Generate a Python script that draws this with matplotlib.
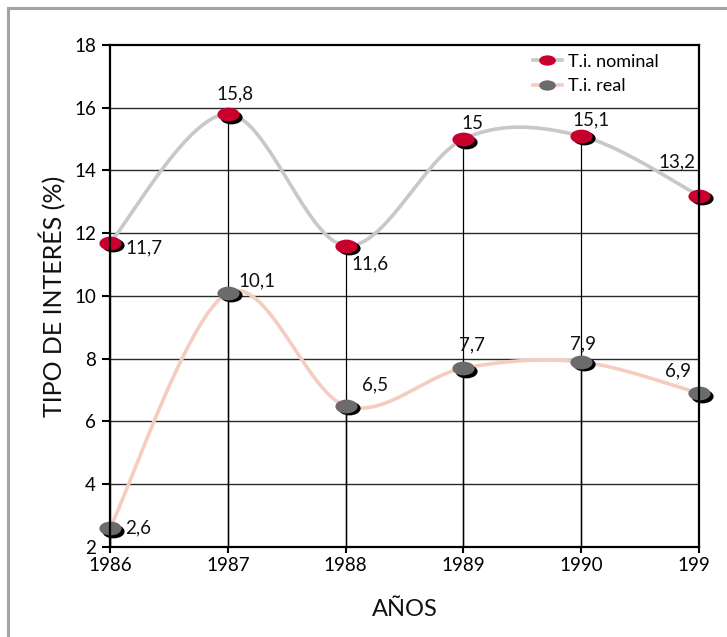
import numpy as np
import matplotlib
matplotlib.use('Agg')
import matplotlib.pyplot as plt
from matplotlib.path import Path
from matplotlib.transforms import Affine2D, ScaledTranslation, Bbox, TransformedBbox
from matplotlib.lines import Line2D
from matplotlib.patches import Rectangle

plt.rcParams['font.family'] = ['Lato', 'DejaVu Sans']

years = [1986, 1987, 1988, 1989, 1990, 1991]
nominal = [11.7, 15.8, 11.6, 15, 15.1, 13.2]
real = [2.6, 10.1, 6.5, 7.7, 7.9, 6.9]
nominal_labels = ['11,7', '15,8', '11,6', '15', '15,1', '13,2']
real_labels = ['2,6', '10,1', '6,5', '7,7', '7,9', '6,9']

RED = '#c8002d'
GRAY = '#6b6b6b'
NOM_LINE = '#c8c8c8'
REAL_LINE = '#f5cdc0'


def smooth(x, y, n=40):
    # bezier smoothing like spreadsheet "smoothed line"
    x = np.asarray(x, float)
    y = np.asarray(y, float)
    px = np.concatenate([[x[0]], x, [x[-1]]])
    py = np.concatenate([[y[0]], y, [y[-1]]])
    xs, ys = [], []
    t = np.linspace(0, 1, n)
    for i in range(len(x) - 1):
        p0 = np.array([px[i + 1], py[i + 1]])
        p3 = np.array([px[i + 2], py[i + 2]])
        p1 = p0 + (np.array([px[i + 2], py[i + 2]]) - np.array([px[i], py[i]])) / 6
        p2 = p3 - (np.array([px[i + 3], py[i + 3]]) - np.array([px[i + 1], py[i + 1]])) / 6
        b = ((1 - t) ** 3)[:, None] * p0 + (3 * (1 - t) ** 2 * t)[:, None] * p1 \
            + (3 * (1 - t) * t ** 2)[:, None] * p2 + (t ** 3)[:, None] * p3
        xs.append(b[:, 0])
        ys.append(b[:, 1])
    return np.concatenate(xs), np.concatenate(ys)


ellipse = Path.unit_circle().transformed(Affine2D().scale(1, 0.62))

fig = plt.figure(figsize=(7.27, 6.37), dpi=100)
fig.patches.append(Rectangle((8 / 727, -0.05), 1.1, 1 - 8 / 637 + 0.05,
                             transform=fig.transFigure, fill=False,
                             edgecolor='#a3a3a3', linewidth=2.2))
ax = fig.add_axes([110 / 727, 90 / 637, 589 / 727, 502 / 637])

ax.set_xlim(1986, 1991)
ax.set_ylim(2, 18)
ax.set_yticks(range(2, 19, 2))
ax.set_xticks(years)
ax.set_xticklabels([str(y) for y in years])

for v in range(4, 18, 2):
    ax.axhline(v, color='#2a2a2a', lw=1, zorder=1)

# drop lines
ax.vlines(years, 2, nominal, color='black', lw=0.9, zorder=2)
ax.vlines(years, 2, real, color='black', lw=1.0, zorder=2)

sx, sy = smooth(years, nominal)
ax.plot(sx, sy, color=NOM_LINE, lw=2.6, zorder=3, clip_on=False)
sx, sy = smooth(years, real)
ax.plot(sx, sy, color=REAL_LINE, lw=2.6, zorder=3, clip_on=False)

shadow = ax.transData + ScaledTranslation(2.2 / 72, -1.8 / 72, fig.dpi_scale_trans)
for vals, col in [(nominal, RED), (real, GRAY)]:
    ax.plot(years, vals, ls='none', marker=ellipse, ms=16, color='black',
            mec='none', transform=shadow, zorder=4, clip_on=False)
    ax.plot(years, vals, ls='none', marker=ellipse, ms=16, color=col,
            mec='none', zorder=5, clip_on=False)

# value labels: (dx px, dy px, ha)
nom_off = [(15, -5, 'left'), (7, 20, 'center'), (6, -18, 'left'),
           (-2, 16, 'left'), (10, 16, 'center'), (-4, 34, 'right')]
real_off = [(15, 0, 'left'), (11, 12, 'left'), (16, 21, 'left'),
            (9, 23, 'center'), (2, 18, 'center'), (-8, 22, 'right')]
for vals, labs, offs in [(nominal, nominal_labels, nom_off), (real, real_labels, real_off)]:
    for x, v, lab, (dx, dy, ha) in zip(years, vals, labs, offs):
        ax.annotate(lab, (x, v), xytext=(dx * 0.72, dy * 0.72),
                    textcoords='offset points', ha=ha, va='center',
                    fontsize=13.5, color='#111111', zorder=6)

for side in ['left', 'bottom', 'top', 'right']:
    ax.spines[side].set_linewidth(1.6)
    ax.spines[side].set_zorder(6)
ax.tick_params(axis='y', direction='out', length=6, width=1.5, labelsize=13.5, pad=4)
ax.tick_params(axis='x', direction='out', length=4, width=1.5, labelsize=13.5, pad=3)

clip = TransformedBbox(Bbox([[0, 0], [711 / 727, 1]]), fig.transFigure)
last = ax.get_xticklabels()[-1]
last.set_clip_on(True)
last.set_clip_box(clip)

ax.set_ylabel('TIPO DE INTERÉS (%)', fontsize=18, labelpad=6, color='#111111')
ax.set_xlabel('AÑOS', fontsize=17, labelpad=18, color='#111111')

handles = [Line2D([], [], color=NOM_LINE, lw=2.6, marker=ellipse, ms=12,
                  mfc=RED, mec='none'),
           Line2D([], [], color=REAL_LINE, lw=2.6, marker=ellipse, ms=12,
                  mfc=GRAY, mec='none')]
ax.legend(handles, ['T.i. nominal', 'T.i. real'], loc='upper left',
          bbox_to_anchor=(0.69, 1.015), frameon=False, fontsize=13,
          handlelength=1.6, handletextpad=0.35, labelspacing=0.45)

fig.savefig('out.png', dpi=100)
